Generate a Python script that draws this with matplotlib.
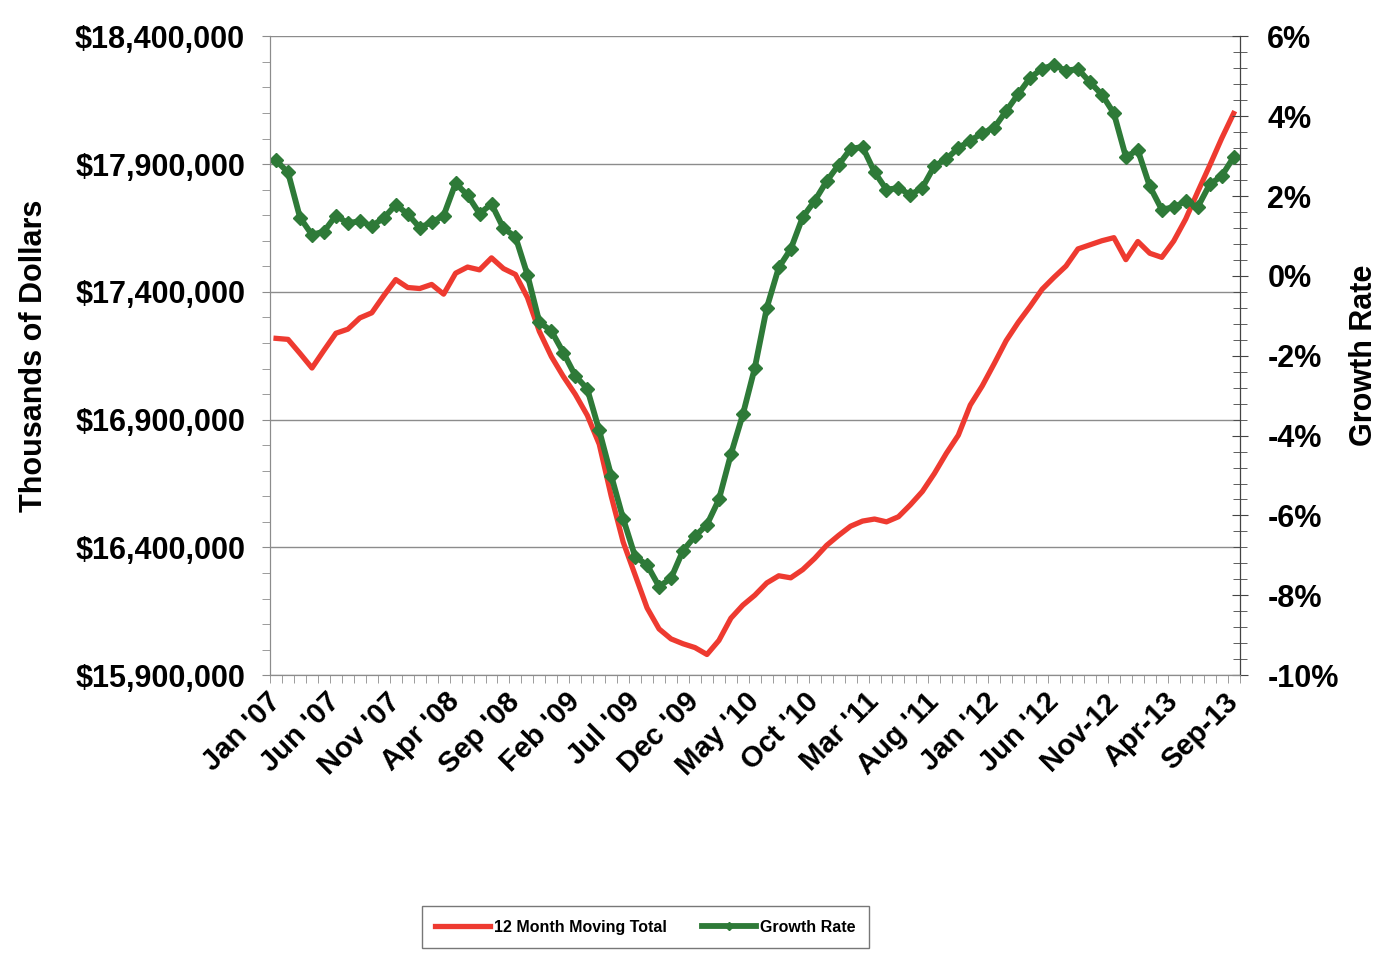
import matplotlib
matplotlib.use("agg")
import matplotlib.pyplot as plt
import numpy as np
from matplotlib.ticker import FuncFormatter, MultipleLocator, FixedLocator

# monthly data, Jan 2007 .. Sep 2013
moving_total = [
    17218000, 17214000, 17159000, 17102000, 17171000, 17238000, 17254000, 17298000, 17318000, 17385000,
    17448000, 17417000, 17413000, 17429000, 17391000, 17473000, 17497000, 17486000, 17533000, 17491000,
    17468000, 17378000, 17245000, 17147000, 17069000, 16999000, 16917000, 16804000, 16601000, 16421000,
    16292000, 16163000, 16081000, 16042000, 16023000, 16008000, 15981000, 16036000, 16123000, 16174000,
    16213000, 16261000, 16289000, 16281000, 16313000, 16357000, 16408000, 16447000, 16483000, 16503000,
    16511000, 16500000, 16520000, 16567000, 16619000, 16689000, 16768000, 16839000, 16957000, 17032000,
    17119000, 17209000, 17280000, 17343000, 17410000, 17457000, 17501000, 17568000, 17584000, 17600000,
    17612000, 17526000, 17597000, 17551000, 17535000, 17599000, 17685000, 17791000, 17894000, 18000000,
    18098000,
]
growth_rate = [
    2.89, 2.59, 1.46, 1.03, 1.11, 1.51, 1.32, 1.37, 1.25, 1.45,
    1.78, 1.55, 1.21, 1.34, 1.51, 2.32, 2.02, 1.56, 1.80, 1.19,
    0.98, 0.03, -1.16, -1.38, -1.92, -2.50, -2.83, -3.87, -5.00, -6.08,
    -7.03, -7.24, -7.78, -7.57, -6.88, -6.52, -6.23, -5.60, -4.47, -3.47,
    -2.30, -0.80, 0.21, 0.67, 1.47, 1.88, 2.37, 2.78, 3.18, 3.23,
    2.60, 2.16, 2.20, 2.03, 2.21, 2.75, 2.93, 3.20, 3.39, 3.57,
    3.71, 4.13, 4.55, 4.96, 5.19, 5.28, 5.14, 5.18, 4.85, 4.54,
    4.07, 2.98, 3.15, 2.24, 1.66, 1.72, 1.87, 1.72, 2.29, 2.50,
    2.97,
]
tick_labels = ["Jan '07", "Jun '07", "Nov '07", "Apr '08", "Sep '08", "Feb '09",
               "Jul '09", "Dec '09", "May '10", "Oct '10", "Mar '11", "Aug '11",
               "Jan '12", "Jun '12", "Nov-12", "Apr-13", "Sep-13"]
label_step = 5
dollar_min, dollar_max, dollar_step = 15900000, 18400000, 500000
pct_min, pct_max, pct_step = -10, 6, 2

RED = '#EE3A30'
GREEN = '#2E7A38'
GRID = '#8C8C8C'

plt.rcParams['font.family'] = ['Liberation Sans', 'DejaVu Sans']
plt.rcParams['font.weight'] = 'bold'

fig = plt.figure(figsize=(13.85, 9.55), dpi=100)
ax = fig.add_axes([0.195, 0.293, 0.7, 0.669])
ax2 = ax.twinx()

x = np.arange(len(moving_total))
line1, = ax.plot(x, moving_total, color=RED, lw=3.8, solid_joinstyle='round',
                 label='12 Month Moving Total')
line2, = ax2.plot(x, growth_rate, color=GREEN, lw=4.2, marker='D', ms=7.5,
                  label='Growth Rate')

# left axis
ax.set_ylim(dollar_min, dollar_max)
ax.yaxis.set_major_locator(FixedLocator(np.arange(dollar_min, dollar_max + 1, dollar_step)))
ax.yaxis.set_minor_locator(MultipleLocator(100000))
ax.yaxis.set_major_formatter(FuncFormatter(lambda v, p: f'${v:,.0f}'))
ax.grid(axis='y', which='major', color=GRID, lw=1)
ax.tick_params(axis='y', which='both', direction='out', length=6, color=GRID,
               labelsize=22, pad=12)
ax.set_ylabel('Thousands of Dollars', fontsize=22, fontweight='bold')
ax.yaxis.set_label_coords(-0.228, 0.5)

# right axis
ax2.set_ylim(pct_min, pct_max)
ax2.yaxis.set_major_locator(MultipleLocator(pct_step))
ax2.yaxis.set_minor_locator(MultipleLocator(0.4))
ax2.yaxis.set_major_formatter(FuncFormatter(lambda v, p: f'{v:.0f}%'))
ax2.tick_params(axis='y', which='major', direction='inout', length=12, color='#444444',
                labelsize=22, pad=14)
ax2.tick_params(axis='y', which='minor', direction='inout', length=10, color='#444444')
ax2.set_ylabel('Growth Rate', fontsize=22, fontweight='bold')
ax2.yaxis.set_label_coords(1.113, 0.5)

# category axis
ax.set_xlim(-0.5, len(x) - 0.5)
ax.xaxis.set_major_locator(FixedLocator(list(range(0, len(x), label_step))))
ax.set_xticklabels(tick_labels)
ax.xaxis.set_minor_locator(FixedLocator(list(np.arange(-0.5, len(x), 1.0))))
ax.tick_params(axis='x', which='major', length=0, labelsize=21, pad=16)
ax.tick_params(axis='x', which='minor', direction='out', length=6, color=GRID)
for t in ax.get_xticklabels():
    t.set_rotation(45)
    t.set_rotation_mode('anchor')
    t.set_ha('right')
    t.set_va('center')

for s in ['left', 'bottom']:
    ax.spines[s].set_color(GRID)
ax.spines['top'].set_visible(False)
ax2.spines['top'].set_visible(False)
ax2.spines['left'].set_color(GRID)
ax2.spines['bottom'].set_color(GRID)
ax2.spines['right'].set_color('#444444')

leg = fig.legend(handles=[line1, line2], loc='center', bbox_to_anchor=(0.466, 0.029),
                 ncol=2, fontsize=11.5, frameon=True, fancybox=False,
                 edgecolor='#555555', handlelength=3.4, handletextpad=0.25,
                 columnspacing=2.2, borderpad=0.85, borderaxespad=0, markerscale=0.5)
leg.get_frame().set_linewidth(1)
for t in leg.get_texts():
    t.set_fontweight('bold')

fig.savefig('out.png', dpi=100)
